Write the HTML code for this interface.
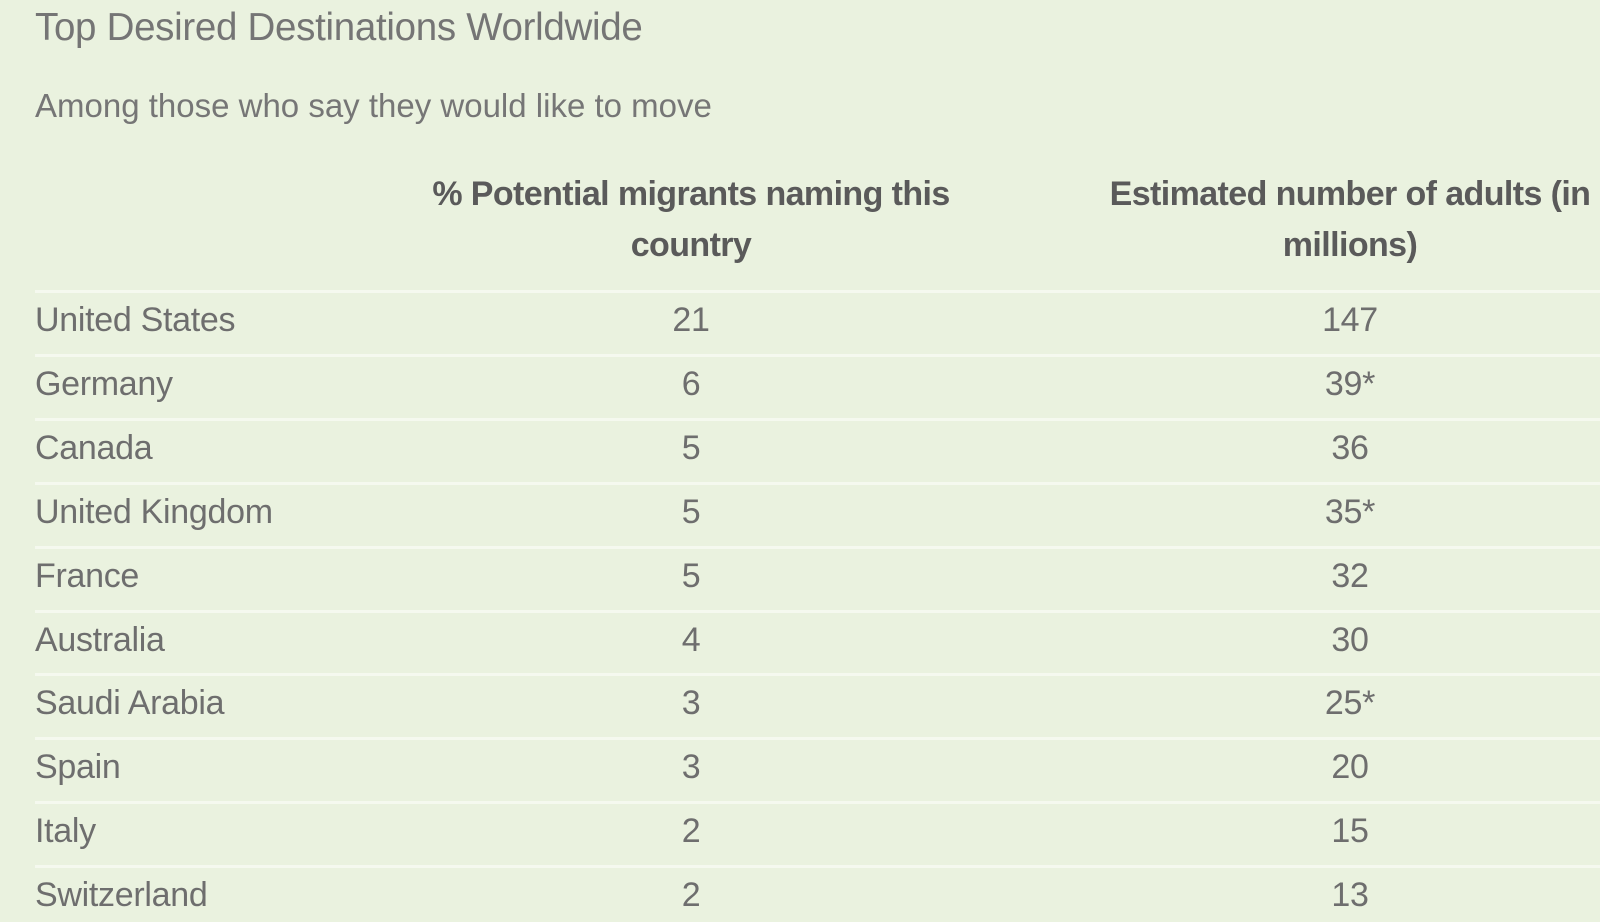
<!DOCTYPE html>
<html><head><meta charset="utf-8">
<style>
html,body{margin:0;padding:0;}
body{width:1600px;height:922px;overflow:hidden;background:#eaf2df;font-family:"Liberation Sans",sans-serif;color:#6b6b6b;position:relative;}
.t{position:absolute;white-space:nowrap;line-height:1;}
#title{left:35px;top:9px;font-size:38.5px;color:#757575;letter-spacing:-0.3px;}
#sub{left:35px;top:89px;font-size:33px;color:#767676;letter-spacing:0px;}
.hd{position:absolute;text-align:center;font-weight:bold;font-size:34px;color:#5a5a5a;line-height:51px;letter-spacing:-0.6px;}
.sep{position:absolute;left:35px;width:1565px;height:3px;background:#f5f9ef;}
.cell{position:absolute;font-size:34px;line-height:1;letter-spacing:-0.3px;color:#6e6e6e;}
.c{text-align:center;}
</style></head>
<body>
<div id="title" class="t">Top Desired Destinations Worldwide</div>
<div id="sub" class="t">Among those who say they would like to move</div>
<div class="hd" style="left:362px;width:658px;top:169px;">% Potential migrants naming this<br>country</div>
<div class="hd" style="left:1020px;width:660px;top:169px;">Estimated number of adults (in<br>millions)</div>
<div id="rows"></div>
<script>
const countries=["United States","Germany","Canada","United Kingdom","France","Australia","Saudi Arabia","Spain","Italy","Switzerland"];
const percents=["21","6","5","5","5","4","3","3","2","2"];
const adults=["147","39*","36","35*","32","30","25*","20","15","13"];
const rows=document.getElementById('rows');
const top0=290, pitch=63.9;
for(let i=0;i<countries.length;i++){
  const y=top0+i*pitch;
  const s=document.createElement('div');
  s.className='sep';
  s.style.top=y+'px';
  
  
  rows.appendChild(s);
  const ty=y+13;
  const a=document.createElement('div');
  a.className='cell';a.style.left='35px';a.style.top=ty+'px';
  a.textContent=countries[i];
  
  
  rows.appendChild(a);
  const b=document.createElement('div');
  b.className='cell c';b.style.left='362px';b.style.width='658px';b.style.top=ty+'px';
  b.textContent=percents[i];
  
  
  rows.appendChild(b);
  const c=document.createElement('div');
  c.className='cell c';c.style.left='1020px';c.style.width='660px';c.style.top=ty+'px';
  c.textContent=adults[i];
  
  
  rows.appendChild(c);
}
</script>
</body></html>
